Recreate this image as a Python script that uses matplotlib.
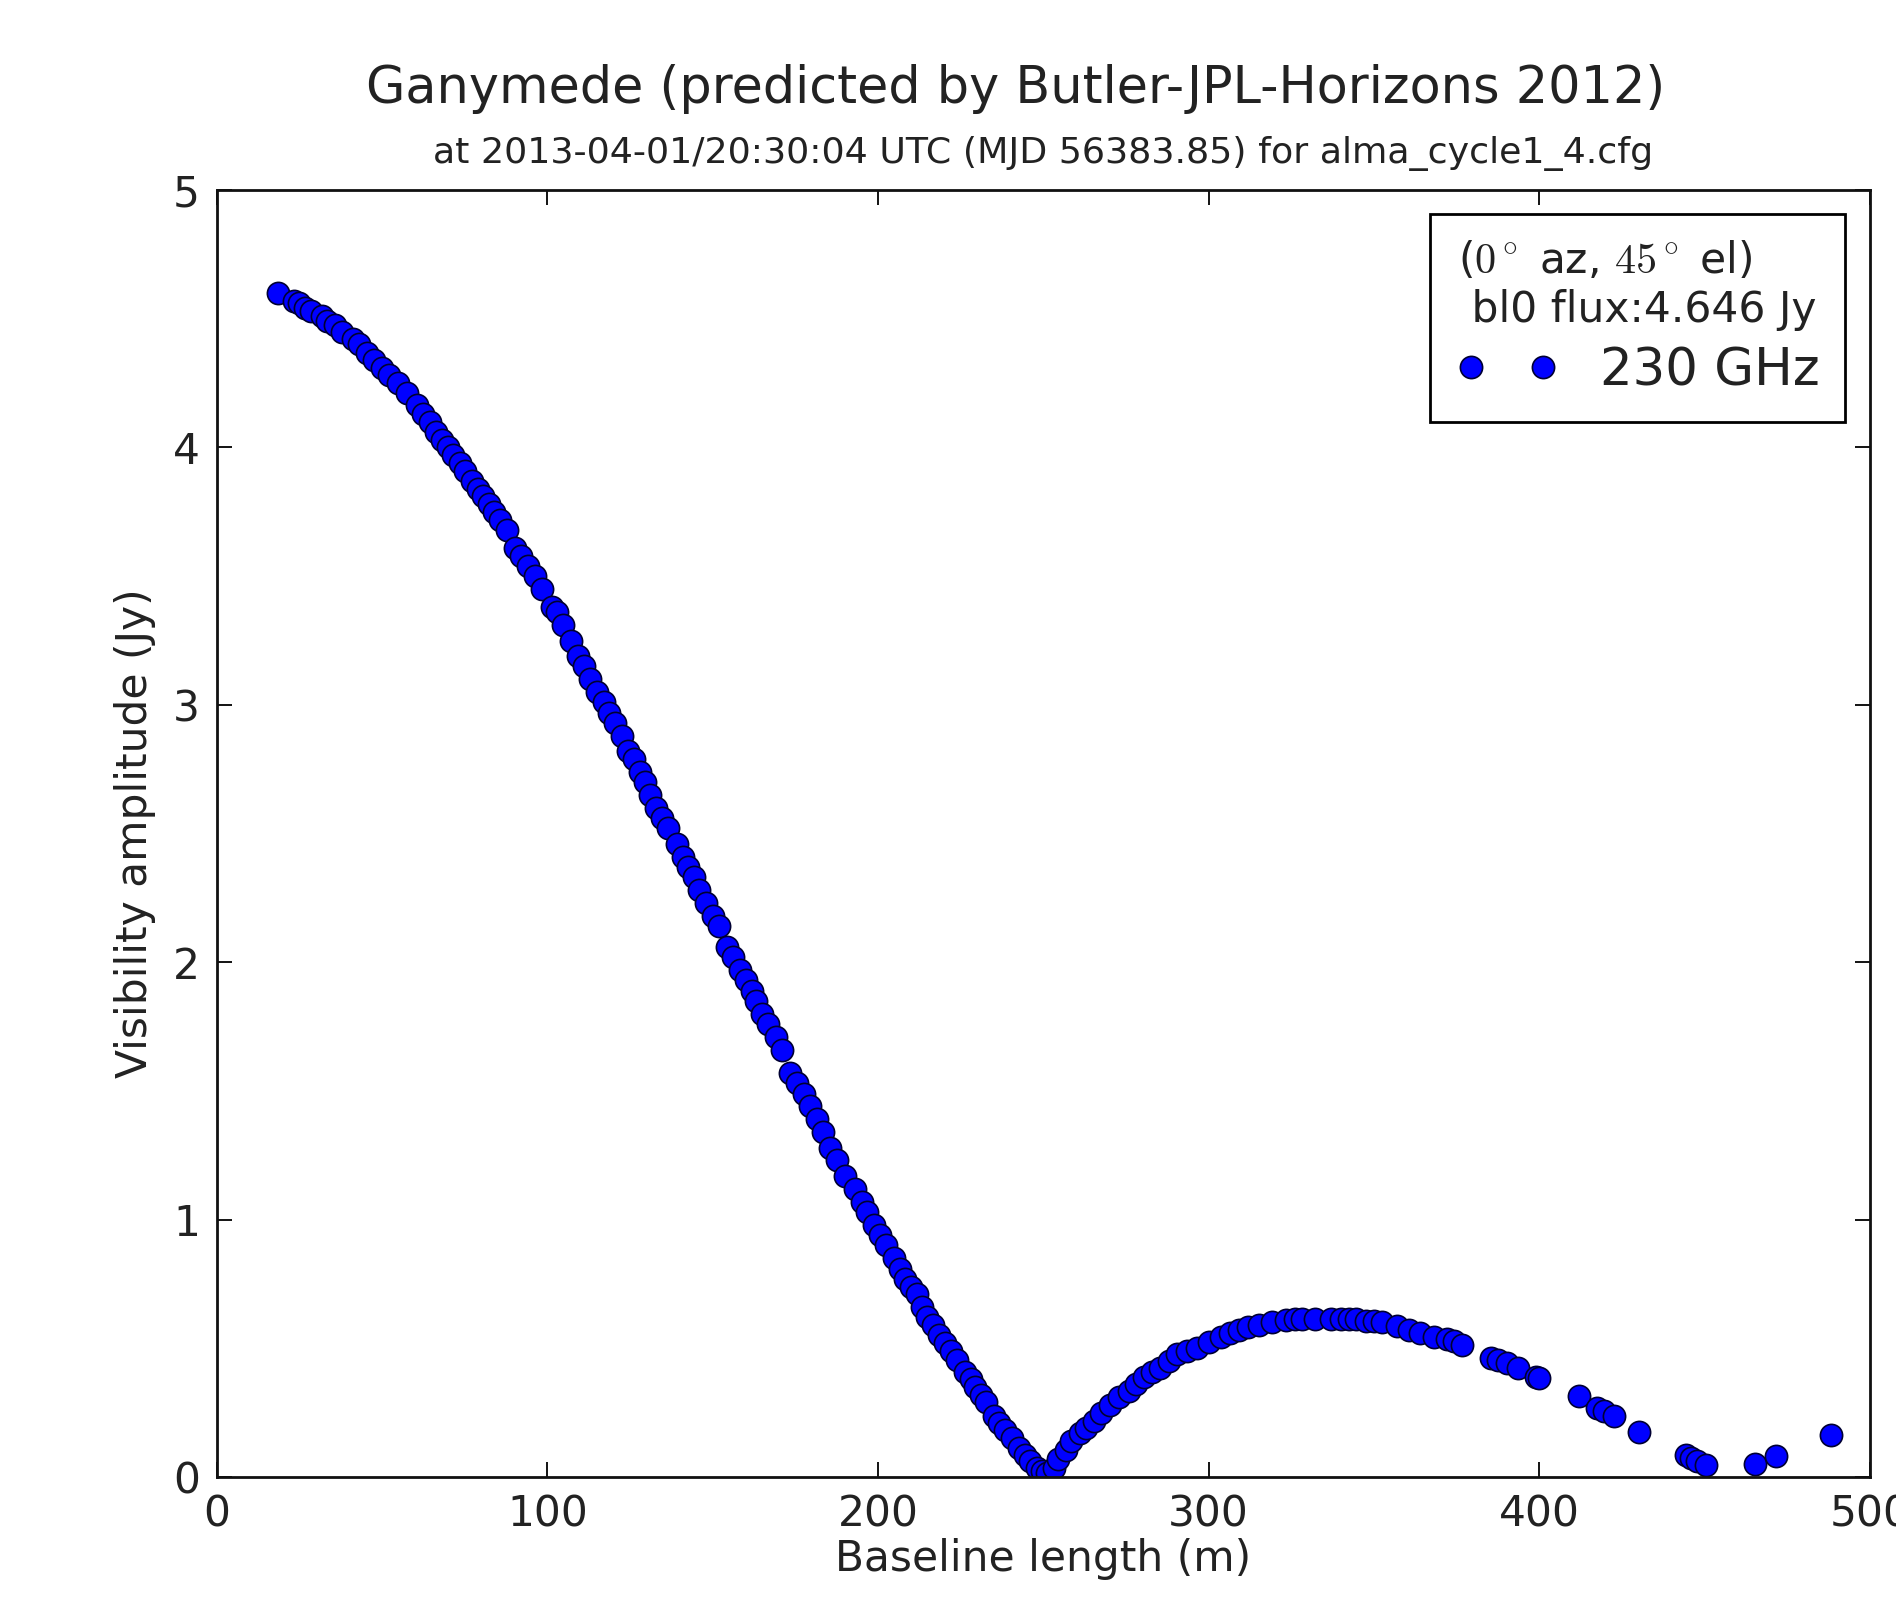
import matplotlib
matplotlib.use("Agg")
import matplotlib.pyplot as plt

plt.rcParams["font.family"] = "DejaVu Sans"
plt.rcParams["mathtext.fontset"] = "cm"

# baseline length (m) and visibility amplitude (Jy)
baseline_m = [
    18.6, 23.5, 24.8, 26.7, 28.5, 31.8, 33.5, 35.8, 38.0, 41.3,
    43.0, 45.4, 47.5, 49.9, 52.0, 54.9, 57.5, 60.5, 62.5, 64.5,
    66.3, 68.1, 69.8, 71.6, 73.5, 75.2, 77.2, 79.0, 80.5, 82.2,
    84.0, 85.8, 87.7, 90.3, 92.0, 94.0, 96.3, 98.5, 101.4, 102.9,
    104.8, 107.0, 109.4, 111.0, 112.9, 115.0, 117.0, 118.5, 120.5, 122.5,
    124.5, 126.3, 128.1, 129.5, 131.1, 133.0, 134.8, 136.6, 139.2, 141.0,
    142.5, 144.2, 146.0, 148.0, 150.0, 151.8, 154.3, 156.2, 158.3, 160.0,
    161.9, 163.2, 164.9, 166.8, 169.0, 170.9, 173.5, 175.5, 177.5, 179.5,
    181.5, 183.5, 185.5, 187.5, 190.0, 193.1, 195.0, 196.7, 198.8, 200.7,
    202.5, 204.7, 206.5, 208.3, 210.0, 211.8, 213.3, 214.8, 216.5, 218.5,
    220.4, 222.0, 223.9, 226.4, 228.0, 229.4, 231.0, 232.5, 235.0, 236.5,
    238.5, 240.5, 242.5, 244.5, 246.1, 248.0, 249.6, 251.0, 253.1, 254.5,
    256.7, 258.5, 261.2, 263.0, 265.2, 267.5, 270.3, 273.0, 275.8, 278.0,
    280.4, 283.0, 285.4, 288.0, 290.5, 293.5, 296.5, 300.0, 303.6, 306.5,
    309.1, 312.0, 315.2, 319.0, 323.3, 326.0, 328.3, 332.0, 336.9, 340.0,
    342.4, 344.5, 347.5, 350.0, 352.5, 357.0, 360.6, 364.0, 368.1, 372.0,
    374.2, 376.7, 385.3, 387.5, 390.3, 393.4, 399.0, 399.9, 412.0, 417.5,
    419.5, 422.6, 430.1, 444.3, 446.0, 447.8, 450.3, 465.1, 471.5, 488.1,
]
amplitude_jy = [
    4.60, 4.57, 4.56, 4.54, 4.53, 4.51, 4.49, 4.475, 4.45, 4.42,
    4.40, 4.365, 4.34, 4.31, 4.28, 4.25, 4.21, 4.165, 4.13, 4.10,
    4.06, 4.03, 4.00, 3.97, 3.94, 3.91, 3.87, 3.84, 3.81, 3.78,
    3.75, 3.72, 3.68, 3.61, 3.58, 3.54, 3.50, 3.45, 3.38, 3.36,
    3.31, 3.25, 3.19, 3.15, 3.10, 3.05, 3.01, 2.97, 2.93, 2.88,
    2.82, 2.79, 2.74, 2.70, 2.65, 2.60, 2.56, 2.52, 2.46, 2.41,
    2.37, 2.33, 2.28, 2.23, 2.18, 2.14, 2.06, 2.02, 1.97, 1.93,
    1.89, 1.85, 1.80, 1.76, 1.71, 1.66, 1.57, 1.53, 1.49, 1.44,
    1.39, 1.34, 1.28, 1.23, 1.17, 1.12, 1.07, 1.03, 0.98, 0.94,
    0.90, 0.85, 0.81, 0.77, 0.74, 0.71, 0.66, 0.62, 0.59, 0.55,
    0.52, 0.49, 0.456, 0.41, 0.38, 0.35, 0.32, 0.29, 0.236, 0.21,
    0.184, 0.15, 0.113, 0.085, 0.061, 0.035, 0.022, 0.015, 0.035, 0.07,
    0.106, 0.14, 0.171, 0.19, 0.216, 0.25, 0.28, 0.31, 0.333, 0.36,
    0.39, 0.41, 0.424, 0.45, 0.48, 0.49, 0.50, 0.525, 0.546, 0.56,
    0.572, 0.582, 0.592, 0.603, 0.611, 0.613, 0.616, 0.616, 0.616, 0.616,
    0.614, 0.615, 0.605, 0.605, 0.603, 0.585, 0.572, 0.56, 0.546, 0.535,
    0.527, 0.514, 0.462, 0.455, 0.443, 0.424, 0.39, 0.385, 0.313, 0.268,
    0.255, 0.236, 0.177, 0.087, 0.075, 0.061, 0.048, 0.052, 0.083, 0.164,
]

title = "Ganymede (predicted by Butler-JPL-Horizons 2012)"
subtitle = "at 2013-04-01/20:30:04 UTC (MJD 56383.85) for alma_cycle1_4.cfg"
legend_title = "($0^\\circ$ az, $45^\\circ$ el)\n bl0 flux:4.646 Jy"
series_label = "230 GHz"

TEXT = "#222222"

fig = plt.figure(figsize=(18.96, 15.97), dpi=100)
ax = fig.add_axes([0.1143, 0.0751, 0.872, 0.8059])

ax.plot(baseline_m, amplitude_jy, linestyle="none", marker="o",
        markersize=16, markerfacecolor="#0000ff",
        markeredgecolor="#000033", markeredgewidth=1.2, label=series_label)

ax.set_xlim(0, 500)
ax.set_ylim(0, 5)
ax.set_xticks([0, 100, 200, 300, 400, 500])
ax.set_yticks([0, 1, 2, 3, 4, 5])
ax.tick_params(direction="in", top=True, right=True, length=11, width=1.3,
               pad=12, labelsize=30.5, colors="black", labelcolor=TEXT)
for sp in ax.spines.values():
    sp.set_linewidth(2.0)
    sp.set_color("#111111")

ax.set_xlabel("Baseline length (m)", fontsize=30.5, color=TEXT)
ax.set_ylabel("Visibility amplitude (Jy)", fontsize=30.5, color=TEXT)
ax.xaxis.set_label_coords(0.5, -0.0475)
ax.yaxis.set_label_coords(-0.037, 0.5)

leg = ax.legend(loc="upper right", bbox_to_anchor=(0.985, 0.981),
                borderaxespad=0, numpoints=2, fontsize=37,
                title=legend_title, title_fontsize=30.5,
                borderpad=0.5, labelspacing=0.3,
                fancybox=False, framealpha=1, edgecolor="black")
leg.get_frame().set_linewidth(2.0)
leg.get_title().set_color(TEXT)
for t in leg.get_texts():
    t.set_color(TEXT)

fig.text(0.5356, 1 - 103 / 1597, title, fontsize=36.6, ha="center",
         va="baseline", color=TEXT)
fig.text(0.5502, 1 - 163 / 1597, subtitle, fontsize=26.2, ha="center",
         va="baseline", color=TEXT)

fig.savefig("out.png", dpi=100)
